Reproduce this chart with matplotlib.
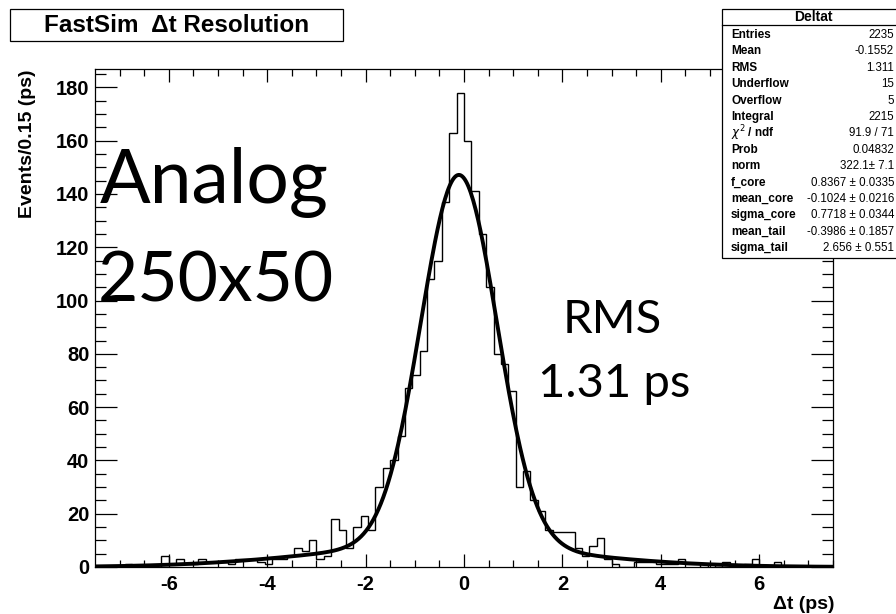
import numpy as np
import matplotlib
matplotlib.use("Agg")
from matplotlib import pyplot as plt

plt.rcParams['axes.unicode_minus'] = False
plt.rcParams['font.family'] = ['Liberation Sans', 'DejaVu Sans']

# histogram: 100 bins of 0.15 ps from -7.5 to 7.5
edges = np.linspace(-7.5, 7.5, 101)
counts = [0, 0, 0, 0, 1, 0, 0, 0, 0, 4,
          1, 3, 1, 1, 3, 2, 2, 2, 1, 3,
          3, 3, 2, 1, 3, 3, 4, 7, 6, 10,
          3, 4, 18, 14, 7, 15, 19, 14, 30, 37,
          40, 49, 67, 72, 81, 108, 115, 137, 163, 178,
          160, 141, 125, 105, 80, 76, 66, 30, 36, 25,
          21, 14, 13, 13, 13, 7, 4, 8, 11, 3,
          1, 0, 0, 2, 2, 2, 1, 1, 1, 3,
          1, 1, 0, 1, 0, 2, 1, 0, 1, 3,
          0, 0, 2, 0, 0, 0, 0, 0, 0, 0]

# double gaussian fit parameters (from the stats box)
norm = 322.1
f_core = 0.8367
mean_core = -0.1024
sigma_core = 0.7718
mean_tail = -0.3986
sigma_tail = 2.656

stat_names = ["Entries", "Mean", "RMS", "Underflow", "Overflow", "Integral",
              r"$\chi^2$ / ndf", "Prob", "norm", "f_core", "mean_core",
              "sigma_core", "mean_tail", "sigma_tail"]
stat_values = ["2235", "-0.1552", "1.311", "15", "5", "2215", "91.9 / 71",
               "0.04832", "322.1± 7.1", "0.8367 ± 0.0335",
               "-0.1024 ± 0.0216", "0.7718 ± 0.0344",
               "-0.3986 ± 0.1857", "2.656 ± 0.551"]


def gaus(x, m, s):
    return np.exp(-0.5 * ((x - m) / s) ** 2) / (np.sqrt(2 * np.pi) * s)


W, H = 896, 614
fig = plt.figure(figsize=(W / 100, H / 100), dpi=100)
ax = fig.add_axes([95 / W, 1 - 567 / H, (833 - 95) / W, (567 - 69) / H])

ax.stairs(counts, edges, color='black', lw=1.0)

xf = np.linspace(-7.5, 7.5, 600)
yf = norm * (f_core * gaus(xf, mean_core, sigma_core)
             + (1 - f_core) * gaus(xf, mean_tail, sigma_tail))
ax.plot(xf, yf, color='black', lw=2.8)

ax.set_xlim(-7.5, 7.5)
ax.set_ylim(0, 1.05 * max(counts))
ax.set_xticks([-6, -4, -2, 0, 2, 4, 6])
ax.set_xticks(np.arange(-7, 7.6, 0.5), minor=True)
ax.set_yticks(np.arange(0, 181, 20))
ax.set_yticks(np.arange(0, 186, 5), minor=True)
ax.tick_params(axis='both', which='both', direction='in', top=True,
               right=True, width=0.9, labelsize=14.5)
ax.tick_params(axis='x', which='major', length=9.5, pad=6)
ax.tick_params(axis='x', which='minor', length=5)
ax.tick_params(axis='y', which='major', length=16, pad=4)
ax.tick_params(axis='y', which='minor', length=8)
for lab in ax.get_xticklabels() + ax.get_yticklabels():
    lab.set_fontweight('bold')
for sp in ax.spines.values():
    sp.set_linewidth(0.9)

fig.text(28 / W, 1 - 70 / H, "Events/0.15 (ps)", rotation=90, ha='center',
         va='top', fontsize=14, fontweight='bold')
fig.text(834 / W, 1 - 613 / H, "Δt (ps)", ha='right', va='bottom',
         fontsize=14, fontweight='bold')

# title box
fig.patches.append(plt.Rectangle((10 / W, 1 - 41 / H), 333 / W, 32 / H,
                                 transform=fig.transFigure, fc='white',
                                 ec='black', lw=0.9))
fig.text(177 / W, 1 - 25 / H, "FastSim  Δt Resolution", ha='center',
         va='center', fontsize=17.5, fontweight='bold')

# stats box
fig.patches.append(plt.Rectangle((722 / W, 1 - 258 / H), 200 / W, 249 / H,
                                 transform=fig.transFigure, fc='white',
                                 ec='black', lw=0.9))
fig.add_artist(plt.Line2D([722 / W, 1], [1 - 25 / H, 1 - 25 / H],
                          transform=fig.transFigure, color='black', lw=0.9))
fig.text(813 / W, 1 - 17 / H, "Deltat", ha='center', va='center',
         fontsize=10, fontweight='bold')
for i, (nm, vl) in enumerate(zip(stat_names, stat_values)):
    yy = 1 - (35 + 16.4 * i) / H
    fig.text(731 / W, yy, nm, ha='left', va='center', fontsize=8.5,
             fontweight='bold')
    fig.text(894 / W, yy, vl, ha='right', va='center', fontsize=8.3)

fig.text(100 / W, 1 - 203 / H, "Analog", ha='left', va='baseline',
         fontsize=54, family='Lato')
fig.text(98 / W, 1 - 302 / H, "250x50", ha='left', va='baseline',
         fontsize=50, family='Lato')
fig.text(563 / W, 1 - 333 / H, "RMS", ha='left', va='baseline',
         fontsize=34, family='Lato')
fig.text(614 / W, 1 - 397 / H, "1.31 ps", ha='center', va='baseline',
         fontsize=34, family='Lato')

fig.savefig("out.png", dpi=100)
